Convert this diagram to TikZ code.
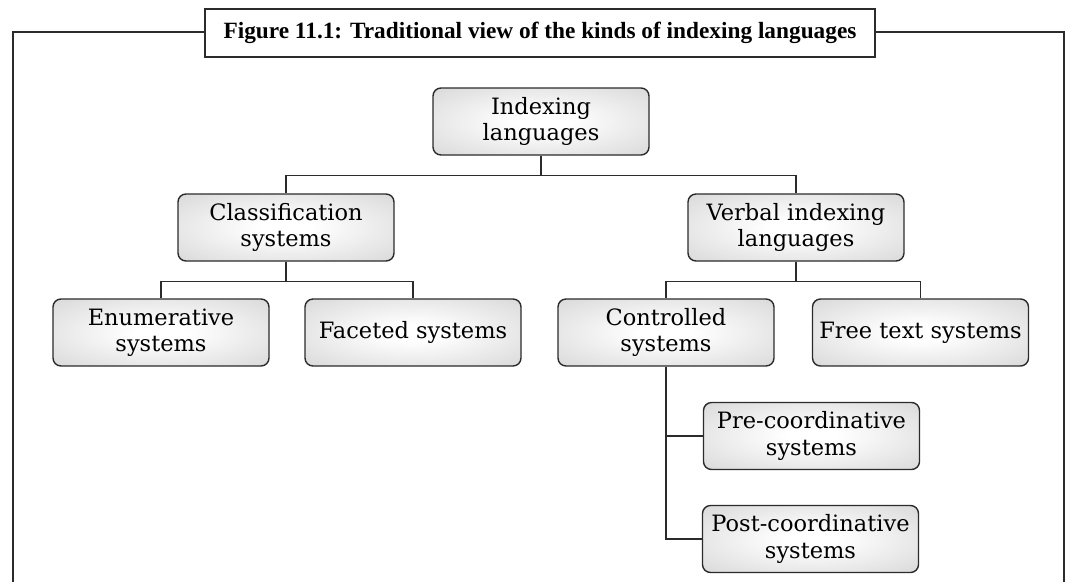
\documentclass[tikz,border=0pt]{standalone}
\usepackage{fontspec}
\setmainfont{DejaVu Serif}
\newfontfamily\titlefont{Liberation Serif}
\definecolor{linec}{HTML}{2B2B2B}
\pgfdeclareradialshading{boxshade}{\pgfpoint{0bp}{0bp}}{color(0bp)=(white); color(6bp)=(white); color(42bp)=(black!18); color(70bp)=(black!28)}
\tikzset{
  box/.style={draw=linec, line width=1.4pt, rounded corners=8pt, shading=boxshade,
    minimum width=216pt, minimum height=67pt, align=center, inner sep=2pt,
    font=\fontsize{22.5}{26.5}\selectfont},
  conn/.style={draw=linec, line width=1.4pt},
  frame/.style={draw=linec, line width=2pt}
}
\begin{document}
\begin{tikzpicture}[x=1pt,y=-1pt]
\useasboundingbox (0,0) rectangle (1067,582);
\node[frame, fill=white, minimum width=670pt, minimum height=48pt, inner sep=0pt,
  font=\titlefont\bfseries\fontsize{23.3}{26}\selectfont] (title) at (540,33) {Figure 11.1: Traditional view of the kinds of indexing languages};
\draw[frame] (13,582) -- (13,32) -- (title.west |- 13,32);
\draw[frame] (title.east |- 1064,32) -- (1064,32) -- (1064,582);

\node[box] (idx) at (541,121.5) {Indexing\\languages};
\node[box] (cls) at (286,227.5) {Classification\\systems};
\node[box] (vrb) at (796,227.5) {Verbal indexing\\languages};
\node[box] (enu) at (161,332.5) {Enumerative\\systems};
\node[box] (fac) at (413,332.5) {Faceted systems};
\node[box] (con) at (666,332.5) {Controlled\\systems};
\node[box] (fre) at (920.5,332.5) {Free text systems};
\node[box] (pre) at (811.5,436) {Pre-coordinative\\systems};
\node[box] (pos) at (810.5,539) {Post-coordinative\\systems};

\draw[conn] (idx.south) -- ++(0,20) -| (cls.north);
\draw[conn] (idx.south) -- ++(0,20) -| (vrb.north);
\draw[conn] (cls.south) -- ++(0,20) -| (enu.north);
\draw[conn] (cls.south) -- ++(0,20) -| (fac.north);
\draw[conn] (vrb.south) -- ++(0,20) -| (con.north);
\draw[conn] (vrb.south) -- ++(0,20) -| (fre.north);
\draw[conn] (con.south) |- (pre.west);
\draw[conn] (con.south) |- (pos.west);
\end{tikzpicture}
\end{document}
